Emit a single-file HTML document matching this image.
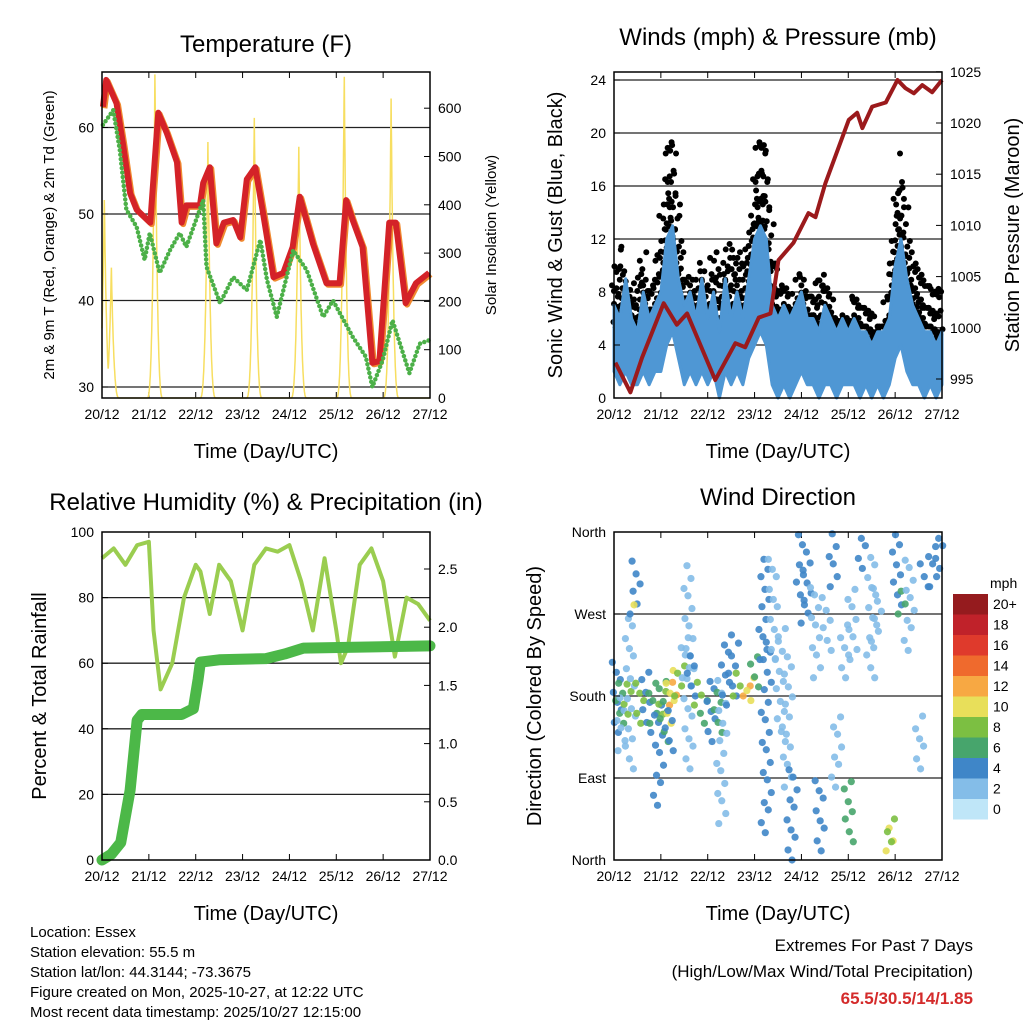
<!DOCTYPE html>
<html><head><meta charset="utf-8">
<style>
html,body{margin:0;padding:0;background:#fff;}
svg{display:block;font-family:"Liberation Sans",sans-serif;}
</style></head>
<body>
<svg id="root" width="1024" height="1024" viewBox="0 0 1024 1024" xmlns="http://www.w3.org/2000/svg">
<rect width="1024" height="1024" fill="#fff"/>
<g id="g1"></g>
<g id="g2"></g>
<g id="g3"></g>
<g id="g4"></g>
<g id="info" font-size="15" fill="#000">
<text x="30" y="937">Location: Essex</text>
<text x="30" y="957">Station elevation: 55.5 m</text>
<text x="30" y="977">Station lat/lon: 44.3144; -73.3675</text>
<text x="30" y="997">Figure created on Mon, 2025-10-27, at 12:22 UTC</text>
<text x="30" y="1017">Most recent data timestamp: 2025/10/27 12:15:00</text>
</g>
<g font-size="17" text-anchor="end">
<text x="973" y="951">Extremes For Past 7 Days</text>
<text x="973" y="977">(High/Low/Max Wind/Total Precipitation)</text>
<text x="973" y="1004" fill="#d42b2b" font-weight="bold">65.5/30.5/14/1.85</text>
</g>
</svg>
<script>
const dayLabels=["20/12","21/12","22/12","23/12","24/12","25/12","26/12","27/12"];
const tRedDay=[0.02,0.09,0.31,0.45,0.6,0.74,1.03,1.2,1.38,1.6,1.7,1.8,2.09,2.16,2.3,2.44,2.6,2.8,2.95,3.09,3.27,3.44,3.66,3.87,4.07,4.22,4.5,4.79,5.07,5.21,5.35,5.56,5.77,5.92,6.13,6.27,6.48,6.7,6.98];
const tRedVal=[62.4,65.5,62.8,58,52.4,50.5,49,61.7,59.4,56,49,51,51,53.6,55.4,46.6,49,49.3,47.3,54,55.4,50,42.7,43.2,46.2,52,46.6,42,42,51.6,49.3,46.2,32.8,33,49,49,39.7,42,43.2];
const tdDay=[0.02,0.24,0.38,0.52,0.74,0.91,1.02,1.23,1.45,1.66,1.8,2.16,2.23,2.52,2.8,3.09,3.38,3.52,3.73,4.08,4.37,4.72,4.93,5.35,5.63,5.77,5.99,6.2,6.56,6.78,6.98];
const tdVal=[60.3,62,57.4,50.5,48.5,44.7,47.8,43.2,45.8,47.8,46.2,51.6,43.9,39.7,42.7,41.2,47,42.4,38.1,45.8,43.5,38.1,40,35.8,33.5,30,33.1,37.7,31.6,35,35.4];
const solarDay=[0.05,0.2,1.13,2.26,3.25,4.2,5.17,6.17];
const solarPeak=[410,270,670,530,580,520,665,620];
const windHi=[7,6,9,6,5,8,6,7, 8,12,13,9,7,8,6,9, 6,8,5,9,6,8,6,9, 12,13,12,7,6,7,6,7, 8,6,6,5,7,6,5,6, 5,6,5,5,4,5,5,6, 10,12,9,7,6,5,5,4, 5];
const windLo=[2,1,2,1,1,2,1,2, 2,4,5,3,1,2,1,2, 1,2,0,2,1,2,1,3, 4,5,4,1,0,1,0,1, 2,1,1,0,1,1,0,1, 1,1,0,1,0,1,0,1, 3,4,2,1,1,0,1,0, 1];
const gust=[10,12,9,8,9,11,9,10, 12,19,20,14,10,9,9,11, 8,12,9,11,12,12,10,12, 17,21,19,12,8,9,8,8, 10,9,8,10,9,8,6,7, 6,8,7,8,7,6,6,10, 15,19,13,11,10,9,8,9, 8];
const presDay=[0.03,0.35,0.6,1.06,1.34,1.56,2.16,2.59,2.8,3.09,3.34,3.51,3.83,4.15,4.3,4.51,5.01,5.19,5.3,5.51,5.8,6.05,6.22,6.4,6.58,6.79,7.0];
const presVal=[996.6,993.7,997.1,1002.4,1000.3,1001.4,994.9,998.5,998.1,1001,1001.4,1006.6,1008.3,1011.2,1010.8,1014.1,1020.3,1021,1019.5,1021.6,1022,1024.2,1023.4,1022.9,1023.7,1023,1024.2];
const rhDay=[0,0.25,0.5,0.75,1.0,1.1,1.25,1.5,1.75,2.0,2.1,2.3,2.5,2.75,3.0,3.25,3.5,3.75,4.0,4.25,4.5,4.75,5.0,5.1,5.25,5.5,5.75,6.0,6.25,6.5,6.75,7.0];
const rhVal=[92,95,90,96,97,70,52,60,80,90,88,75,90,85,70,90,95,94,96,85,70,92,70,60,65,90,95,85,62,80,78,73];
const prDay=[0,0.2,0.4,0.6,0.75,0.85,1.7,1.95,2.05,2.1,2.5,3.5,3.9,4.3,7.0];
const prVal=[0,0.05,0.15,0.6,1.2,1.25,1.25,1.3,1.55,1.7,1.72,1.73,1.77,1.82,1.84];
const dirDay=[0.05,0.1,0.15,0.3,0.35,0.45,0.47,0.55,0.7,0.85,0.95,1.0,1.05,1.25,1.22,1.2,1.4,1.5,1.6,1.65,1.8,1.95,2.05,2.2,2.3,2.4,2.55,2.65,2.8,2.9,3.0,3.2,3.25,3.4,3.55,3.7,3.8,4.0,4.1,4.3,4.4,4.55,4.7,4.75,4.9,5.0,5.1,5.3,5.5,5.6,5.85,5.9,6.05,6.15,6.3,6.5,6.6,6.8,6.95];
const dirLo=[140,150,120,160,100,270,280,150,140,150,60,160,130,170,150,120,180,200,100,180,170,150,130,140,40,170,180,180,180,175,190,220,30,220,130,80,0,280,260,200,10,230,300,80,200,20,220,320,200,240,10,20,280,270,230,100,300,300,320];
const dirHi=[230,200,180,200,270,330,290,200,210,200,170,190,200,200,210,170,220,250,330,230,200,180,200,190,200,260,240,210,200,200,230,340,240,330,260,230,100,360,330,300,100,290,360,160,260,90,300,360,340,300,40,50,360,300,330,160,330,350,360];
const dirSpd=[4,6,2,8,2,4,10,8,4,6,4,8,6,12,10,4,8,2,2,4,8,6,4,6,2,4,4,8,12,10,6,4,4,2,2,2,4,4,4,2,4,2,4,2,2,6,2,4,2,2,10,8,4,6,2,2,4,4,4];
const cbLabels=["0","2","4","6","8","10","12","14","16","18","20+"];
const cbColors=["#bfe6f8","#84bde8","#3f86c8","#47a56c","#7cbf42","#e8df5a","#f7a843","#ef6a2d","#df3a2c","#c0222a","#951b1e"];

const NS="http://www.w3.org/2000/svg";
function mk(parent,tag,attrs,text){const e=document.createElementNS(NS,tag);for(const k in attrs)e.setAttribute(k,attrs[k]);if(text!==undefined)e.textContent=text;parent.appendChild(e);return e;}

function frame(g,x0,x1,y0,y1,title,tx,ty){
  const xs=d=>x0+d*(x1-x0)/7;
  const t=mk(g,'text',{x:tx,y:ty,'font-size':24,'text-anchor':'middle'},title);
  
  dayLabels.forEach((l,i)=>{
    const tl=mk(g,'text',{x:xs(i),y:y1+21,'font-size':14,'text-anchor':'middle'},l);
    
    mk(g,'line',{x1:xs(i),x2:xs(i),y1:y0,y2:y0+6,stroke:'#000'});
    mk(g,'line',{x1:xs(i),x2:xs(i),y1:y1,y2:y1-6,stroke:'#000'});
  });
  const xt=mk(g,'text',{x:(x0+x1)/2,y:y1+60,'font-size':20,'text-anchor':'middle'},'Time (Day/UTC)');
  
  return xs;
}
function box(g,x0,x1,y0,y1){mk(g,'rect',{x:x0,y:y0,width:x1-x0,height:y1-y0,fill:'none',stroke:'#000','stroke-width':1.5});}
function yTicks(g,vals,fy,x,side,fmt,xEdge){
  vals.forEach(v=>{const y=fy(v);
    const t=mk(g,'text',{x:x,y:y+5,'font-size':14,'text-anchor':side},fmt(v));
    
    mk(g,'line',{x1:xEdge,x2:xEdge+(side==='end'?6:-6),y1:y,y2:y,stroke:'#000'});});
}
function grid(g,vals,fy,x0,x1){vals.forEach(v=>mk(g,'line',{x1:x0,x2:x1,y1:fy(v),y2:fy(v),stroke:'#222','stroke-width':1.3}));}
function vlabel(g,text,x,y,size,name){const t=mk(g,'text',{x:x,y:y,'font-size':size,'text-anchor':'middle',transform:`rotate(-90 ${x} ${y})`},text);}

(function(){
  const g=document.getElementById('g1');const x0=102,x1=430,y0=72,y1=398;
  const xs=frame(g,x0,x1,y0,y1,'Temperature (F)',266,52);
  const fy=v=>387-(v-30)*8.65, fs=v=>398-v*0.483;
  grid(g,[30,40,50,60],fy,x0,x1);
  let sp='';
  for(let d=0;d<=7;d+=0.005){let v=0;solarDay.forEach((c,i)=>{const w=0.17;const u=Math.abs(d-c)/w;if(u<1)v=Math.max(v,solarPeak[i]*Math.pow(1-u,3));});sp+=`${xs(d).toFixed(1)},${fs(v).toFixed(1)} `;}
  const s=mk(g,'polyline',{points:sp,fill:'none',stroke:'#f7de60','stroke-width':1.5});
  
  const o=mk(g,'polyline',{points:tRedDay.map((d,i)=>`${xs(d)+1.5},${fy(tRedVal[i])+1.5}`).join(' '),fill:'none',stroke:'#f08a30','stroke-width':6,'stroke-linejoin':'round'});
  
  const r=mk(g,'polyline',{points:tRedDay.map((d,i)=>`${xs(d)},${fy(tRedVal[i])}`).join(' '),fill:'none',stroke:'#d42228','stroke-width':6,'stroke-linejoin':'round'});
  
  const gd=mk(g,'polyline',{points:tdDay.map((d,i)=>`${xs(d)},${fy(tdVal[i])}`).join(' '),fill:'none',stroke:'#4cb048','stroke-width':4.5,'stroke-dasharray':'0 4.5','stroke-linecap':'round'});
  
  box(g,x0,x1,y0,y1);
  yTicks(g,[30,40,50,60],fy,x0-8,'end',v=>v,x0);
  yTicks(g,[0,100,200,300,400,500,600],fs,x1+8,'start',v=>v,x1);
  vlabel(g,'2m & 9m T (Red, Orange) & 2m Td (Green)',54,235,15,'left-y-axis-title');
  vlabel(g,'Solar Insolation (Yellow)',496,235,15,'right-y-axis-title');
})();

(function(){
  const g=document.getElementById('g2');const x0=614,x1=942,y0=72,y1=398;
  const xs=frame(g,x0,x1,y0,y1,'Winds (mph) & Pressure (mb)',778,45);
  const fy=v=>398-v*13.25, fp=v=>379-(v-995)*10.24;
  grid(g,[4,8,12,16,20,24],fy,x0,x1);
  for(let i=0;i<gust.length-1;i++){
    for(let k=0;k<4;k++){const d=(i+k/4)/8;const hi=windHi[i]+(windHi[i+1]-windHi[i])*k/4;const gu=gust[i]+(gust[i+1]-gust[i])*k/4;
      let n=0;
      for(let v=hi*0.85;v<=gu;v+=0.9+n*0.25){n++;mk(g,'circle',{cx:xs(d)+((n*5+k*3)%7)-3,cy:fy(v),r:3,fill:'#000'});}
    }
  }
  let pts='',pb='';
  for(let i=0;i<windHi.length;i++){const d=i/8;pts+=`${xs(d)},${fy(windHi[i])} `;}
  for(let i=windLo.length-1;i>=0;i--){const d=i/8;pb+=`${xs(d)},${fy(windLo[i])} `;}
  const w=mk(g,'polygon',{points:pts+pb,fill:'#4f97d4',stroke:'#4f97d4','stroke-width':3,'stroke-linejoin':'round'});
  
  const p=mk(g,'polyline',{points:presDay.map((d,i)=>`${xs(d)},${fp(presVal[i])}`).join(' '),fill:'none',stroke:'#9b1a1c','stroke-width':4,'stroke-linejoin':'round'});
  
  box(g,x0,x1,y0,y1);
  yTicks(g,[0,4,8,12,16,20,24],fy,x0-8,'end',v=>v,x0);
  yTicks(g,[995,1000,1005,1010,1015,1020,1025],fp,x1+8,'start',v=>v,x1);
  vlabel(g,'Sonic Wind & Gust (Blue, Black)',562,235,20,'left-y-axis-title');
  vlabel(g,'Station Pressure (Maroon)',1019,235,20,'right-y-axis-title');
})();

(function(){
  const g=document.getElementById('g3');const x0=102,x1=430,y0=532,y1=860;
  const xs=frame(g,x0,x1,y0,y1,'Relative Humidity (%) & Precipitation (in)',266,510);
  const fy=v=>860-v*3.28, fp=v=>860-v*116.4;
  grid(g,[20,40,60,80],fy,x0,x1);
  const rh=mk(g,'polyline',{points:rhDay.map((d,i)=>`${xs(d)},${fy(rhVal[i])}`).join(' '),fill:'none',stroke:'#9acd50','stroke-width':4,'stroke-linejoin':'round'});
  
  const pr=mk(g,'polyline',{points:prDay.map((d,i)=>`${xs(d)},${fp(prVal[i])}`).join(' '),fill:'none',stroke:'#4cb848','stroke-width':11,'stroke-linejoin':'round','stroke-linecap':'round'});
  
  box(g,x0,x1,y0,y1);
  yTicks(g,[0,20,40,60,80,100],fy,x0-8,'end',v=>v,x0);
  yTicks(g,[0,0.5,1,1.5,2,2.5],fp,x1+8,'start',v=>v.toFixed(1),x1);
  vlabel(g,'Percent & Total Rainfall',46,696,20,'left-y-axis-title');
})();

(function(){
  const g=document.getElementById('g4');const x0=614,x1=942,y0=532,y1=860;
  const xs=frame(g,x0,x1,y0,y1,'Wind Direction',778,505);
  const fy=v=>860-v*328/360;
  grid(g,[90,180,270],fy,x0,x1);
  dirDay.forEach((d,i)=>{
    const c=cbColors[Math.min(10,Math.floor(dirSpd[i]/2))];
    let n=0;
    for(let v=dirLo[i];v<=dirHi[i];v+=8+(n%3)*3){n++;
      mk(g,'circle',{cx:xs(d)+((n*7+i*3)%11)-5,cy:fy(v),r:3.6,fill:c,'fill-opacity':0.9});
    }
  });
  box(g,x0,x1,y0,y1);
  const names=['North','East','South','West','North'];
  yTicks(g,[0,90,180,270,360],fy,x0-8,'end',v=>names[v/90],x0);
  vlabel(g,'Direction (Colored By Speed)',541,696,20,'left-y-axis-title');
  const cb=mk(g,'g',{});
  
  const mph=mk(cb,'text',{x:990,y:588,'font-size':14},'mph');
  
  cbLabels.forEach((l,i)=>{const y=594+(10-i)*20.5;
    mk(cb,'rect',{x:953,y:y,width:35,height:20.5,fill:cbColors[i]});
    const t=mk(cb,'text',{x:993,y:y+15,'font-size':14},l);
    });
})();
</script>
</body></html>
